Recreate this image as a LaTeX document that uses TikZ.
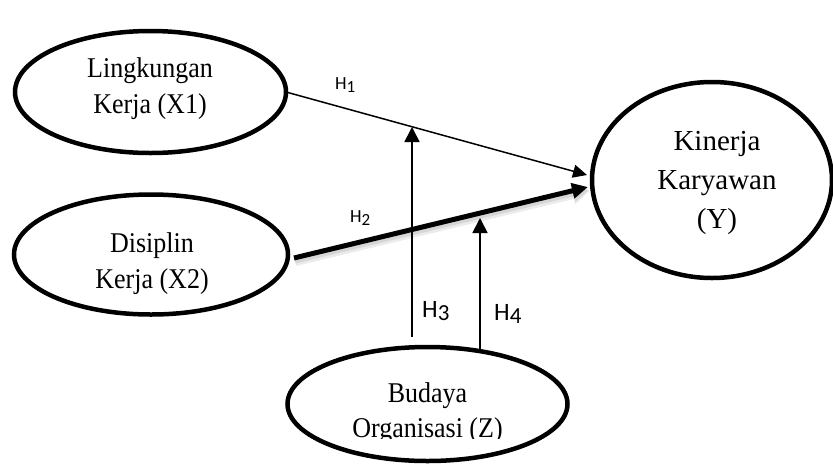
\documentclass[tikz,border=0pt]{standalone}
\usepackage{fontspec}
\setmainfont{Liberation Serif}
\newfontfamily\lblfont{Carlito}
\usetikzlibrary{arrows.meta,shapes.geometric}
\newcommand\tallt[1]{\scalebox{1}[1.1]{#1}}
\begin{document}
\begin{tikzpicture}[x=1pt,y=-1pt,
  oval/.style={draw, ellipse, line width=4.5pt, inner sep=0pt, outer sep=0pt},
  txt/.style={anchor=base, inner sep=0pt, font=\fontsize{26}{30}\selectfont},
  ytxt/.style={anchor=base, inner sep=0pt, font=\fontsize{29}{32}\selectfont},
  hsmall/.style={anchor=base west, inner sep=0pt, font=\lblfont\fontsize{18.5}{20}\selectfont},
  hbig/.style={anchor=base west, inner sep=0pt, font=\lblfont\fontsize{25}{28}\selectfont},
  linkarrow/.style={line width=1.5pt, -{Triangle[length=14pt,width=13pt]}},
  boldarrow/.style={line width=5pt, -{Triangle[length=16pt,width=15pt]}},
  shadowwide/.style={line width=8pt, draw=black!8, -{Triangle[length=17pt,width=18pt]}, draw opacity=1},
  shadowline/.style={line width=5pt, draw=black!16, -{Triangle[length=16pt,width=15pt]}},
  modarrow/.style={line width=1.8pt, -{Triangle[length=15pt,width=15pt]}}
]
\fill[white] (0,0) rectangle (833,464);
\useasboundingbox (0,0) rectangle (833,464);

% ellipses
\node[oval, minimum width=271pt, minimum height=122pt] (x1) at (150.5,92) {};
\node[oval, minimum width=274pt, minimum height=120pt] (x2) at (151,254.5) {};
\node[oval, minimum width=240pt, minimum height=196pt] (y) at (712,180) {};
\node[oval, minimum width=280pt, minimum height=114pt] (z) at (427.5,404) {};

% texts
\node[txt] (x1a) at (150,77) {\tallt{Lingkungan}};
\node[txt] (x1b) at (150,113) {\tallt{Kerja (X1)}};
\node[txt] (x2a) at (152,252) {\tallt{Disiplin}};
\node[txt] (x2b) at (152,288) {\tallt{Kerja (X2)}};
\node[ytxt] (ya) at (717,150) {Kinerja};
\node[ytxt] (yb) at (717,189) {Karyawan};
\node[ytxt] (yc) at (717,228) {(Y)};
\node[txt] (za) at (427.5,402) {\tallt{Budaya}};
\begin{scope}
\clip (0,0) rectangle (833,438.5);
\node[txt] (zb) at (427.5,437) {\tallt{Organisasi (Z)}};
\end{scope}

% connector end points
\coordinate (h2s) at ([shift={(6,3.5)}]x2.east);
\coordinate (h1e) at ([shift={(-5,-5)}]y.west);
\coordinate (h2e) at ([shift={(-4,7)}]y.west);
\coordinate (h3s) at (412,337);
\coordinate (h3e) at (412,127);
\coordinate (h4e) at (480,218);
\coordinate (h4s) at (z.45 |- 0,349);

% H1
\draw[linkarrow] (x1.east) -- (h1e);
% H2 with soft shadow
\draw[shadowwide] ([shift={(1.5,4)}]h2s) -- ([shift={(1.5,4)}]h2e);
\draw[shadowline] ([shift={(1,3)}]h2s) -- ([shift={(1,3)}]h2e);
\draw[boldarrow] (h2s) -- (h2e);
% H3, H4
\draw[modarrow] (h3s) -- (h3e);
\draw[modarrow] (h4e |- h4s) -- (h4e);

% labels
\node[hsmall] (l1) at (335,89) {H\raisebox{-3pt}{\fontsize{17}{17}\selectfont 1}};
\node[hsmall] (l2) at (350,222) {H\raisebox{-3pt}{\fontsize{17}{17}\selectfont 2}};
\node[hbig] (l3) at (422,317) {H\raisebox{-3.3pt}{\fontsize{23}{23}\selectfont 3}};
\node[hbig] (l4) at (494,320) {H\raisebox{-3.3pt}{\fontsize{23}{23}\selectfont 4}};
\end{tikzpicture}
\end{document}
